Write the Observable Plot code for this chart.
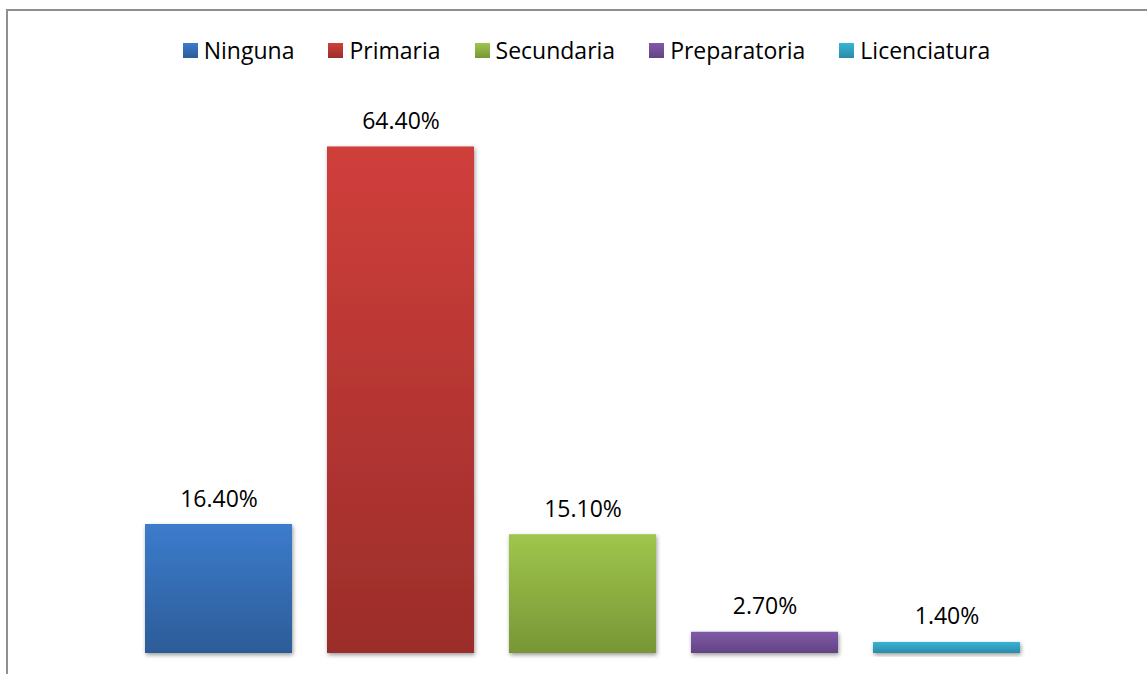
<!DOCTYPE html>
<html>
<head>
<meta charset="utf-8">
<script src="https://cdn.jsdelivr.net/npm/d3@7"></script>
<script src="https://cdn.jsdelivr.net/npm/@observablehq/plot@0.6"></script>
<style>
  html, body { margin: 0; padding: 0; background: #fff; }
  body { width: 1147px; height: 674px; overflow: hidden; position: relative; font-family: "Open Sans", sans-serif; }
  #frame { position: absolute; left: 6px; top: 9px; right: -10px; bottom: -10px;
           border-left: 2px solid #8f8f8f; border-top: 2px solid #8f8f8f; pointer-events: none; }
  #legend { height: 60px; padding-top: 20px; padding-left: 26px; display: flex; justify-content: center;
            align-items: center; gap: 34px; font-size: 23px; color: #000; }
  .item { display: flex; align-items: center; gap: 6px; }
  .sw { width: 15px; height: 15px; }
  #chart svg { display: block; }
</style>
</head>
<body>
<div id="legend"></div>
<div id="chart"></div>
<div id="frame"></div>
<script>
const categories = ["Ninguna", "Primaria", "Secundaria", "Preparatoria", "Licenciatura"];
const values = [16.4, 64.4, 15.1, 2.7, 1.4];
const topColors = ["#3c7ccc", "#d03f3b", "#a0c64c", "#805aa8", "#38b4d6"];
const bottomColors = ["#2c5c98", "#9b2d2a", "#779636", "#634384", "#2a8ba7"];

const data = categories.map((c, i) => ({ cat: c, value: values[i], label: values[i].toFixed(2) + "%" }));

// Legend (HTML, above the SVG)
const legend = document.getElementById("legend");
categories.forEach((c, i) => {
  const it = document.createElement("div");
  it.className = "item";
  const sw = document.createElement("div");
  sw.className = "sw";
  sw.style.background = `linear-gradient(${topColors[i]}, ${bottomColors[i]})`;
  const t = document.createElement("span");
  t.textContent = c;
  it.appendChild(sw); it.appendChild(t);
  legend.appendChild(it);
});

const plot = Plot.plot({
  width: 1147,
  height: 594,
  marginLeft: 127.5,
  marginRight: 109.5,
  marginTop: 22.4,
  marginBottom: 21,
  style: { fontFamily: "Open Sans, sans-serif", fontSize: "23px", background: "transparent" },
  x: { domain: categories, paddingInner: 0.1923, paddingOuter: 0.0962, round: false, axis: null },
  y: { domain: [0, 70], axis: null },
  color: { domain: categories, range: categories.map((c, i) => `url(#grad${i})`) },
  marks: [
    Plot.barY(data, { x: "cat", y: "value", fill: "cat" }),
    Plot.text(data, { x: "cat", y: "value", text: "label", dy: -18, lineAnchor: "bottom",
                      fontSize: 23, fill: "#000" })
  ]
});

// gradients + shadow
const svg = d3.select(plot);
const defs = svg.insert("defs", ":first-child");
categories.forEach((c, i) => {
  const g = defs.append("linearGradient").attr("id", `grad${i}`)
    .attr("x1", 0).attr("y1", 0).attr("x2", 0).attr("y2", 1);
  g.append("stop").attr("offset", "0%").attr("stop-color", topColors[i]);
  g.append("stop").attr("offset", "100%").attr("stop-color", bottomColors[i]);
});
const f = defs.append("filter").attr("id", "shadow")
  .attr("x", "-10%").attr("y", "-10%").attr("width", "130%").attr("height", "140%");
f.append("feDropShadow").attr("dx", 1).attr("dy", 2).attr("stdDeviation", 2)
  .attr("flood-color", "#000").attr("flood-opacity", 0.4);
svg.selectAll("g[aria-label='bar'] rect").attr("filter", "url(#shadow)");

document.getElementById("chart").appendChild(plot);
</script>
</body>
</html>
